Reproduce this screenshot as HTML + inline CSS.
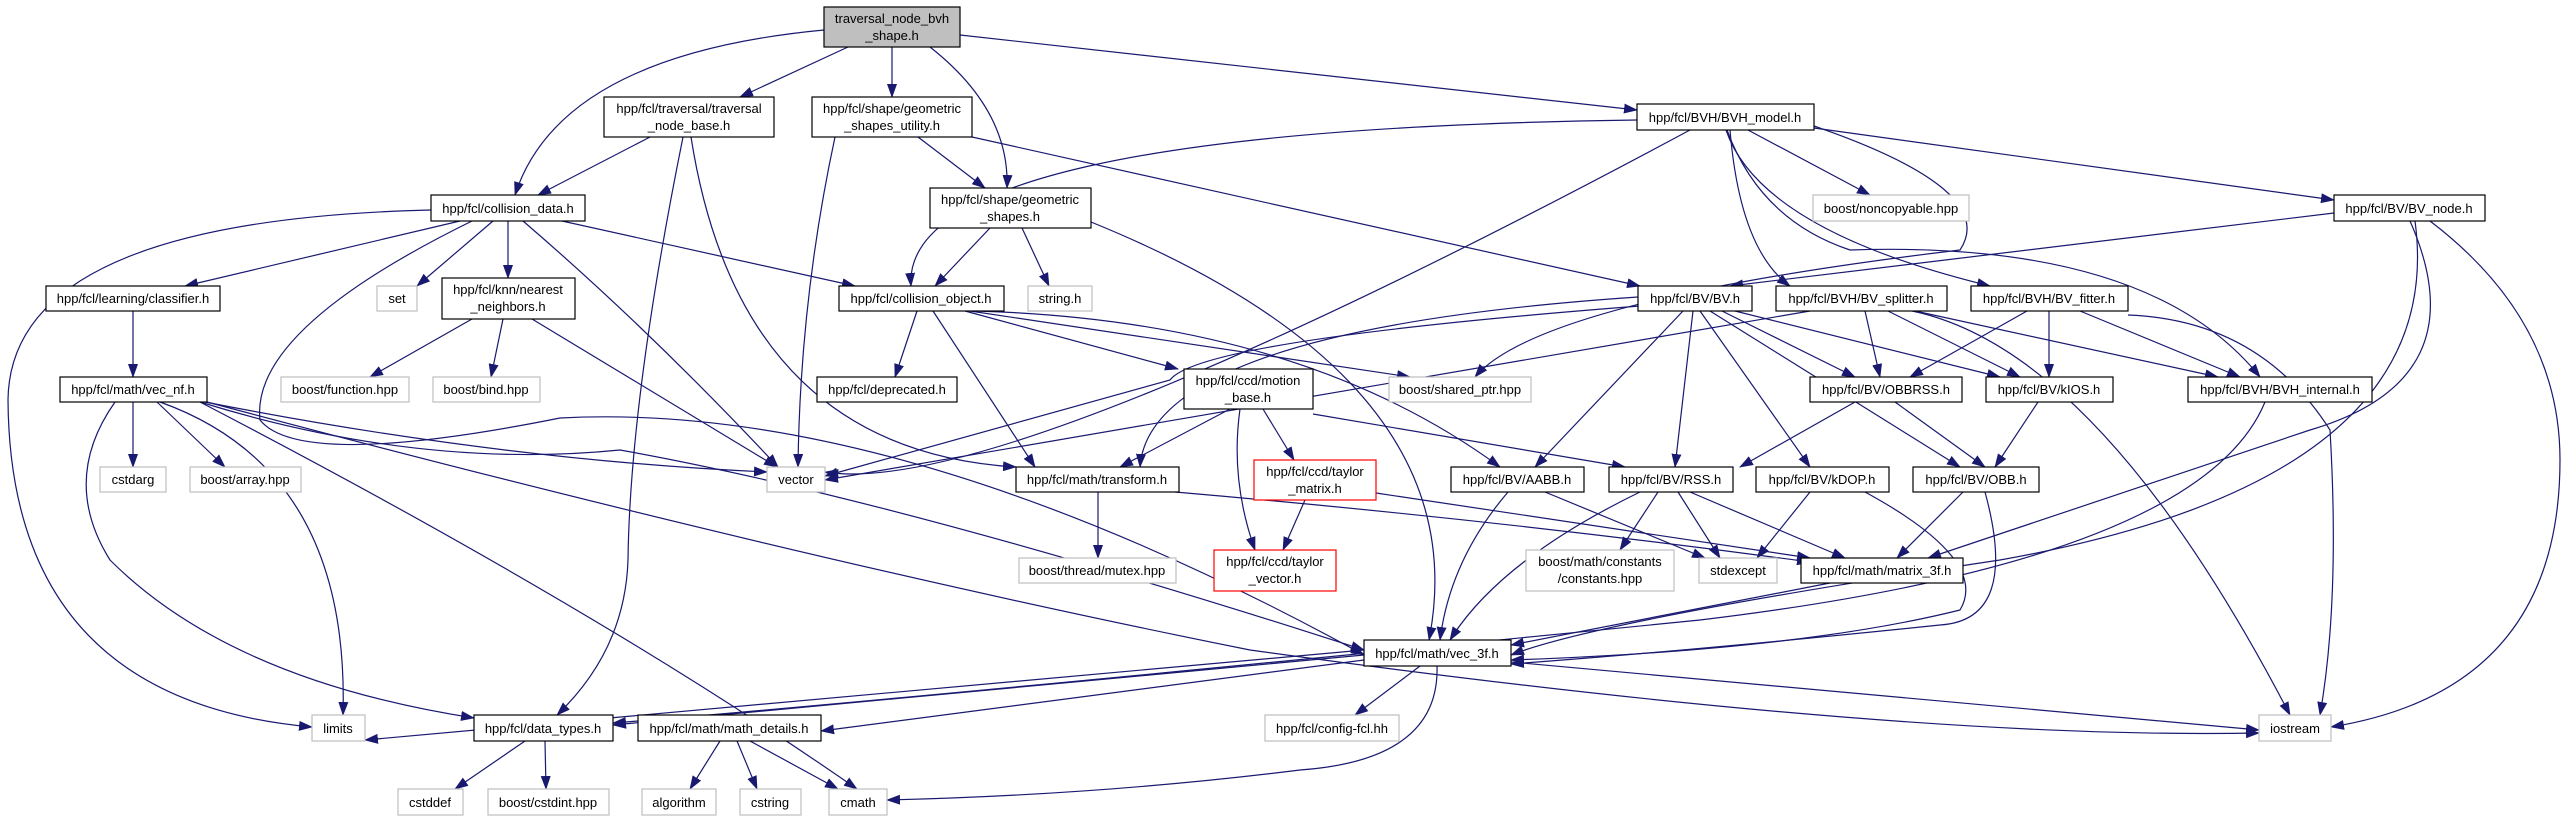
<!DOCTYPE html>
<html><head><meta charset="utf-8"><style>
html,body{margin:0;padding:0;background:#fff}
svg{display:block}
text{font-family:"Liberation Sans",sans-serif;font-size:13px;fill:#000}
.e{fill:none;stroke:#191970;stroke-width:1.2}
.n{fill:#fff;stroke:#000;stroke-width:1.2}
.g{fill:#fff;stroke:#bfbfbf;stroke-width:1.2}
.r{fill:#fff;stroke:#ff0000;stroke-width:1.2}
</style></head><body>
<svg width="2567" height="821" viewBox="0 0 2567 821" xmlns="http://www.w3.org/2000/svg">
<defs><marker id="a" markerWidth="14" markerHeight="10" refX="13" refY="5" orient="auto" markerUnits="userSpaceOnUse"><path d="M0,0 L14,5 L0,10 Z" fill="#191970"/></marker></defs>
<g class="e" marker-end="url(#a)">
<path d="M824,30 Q560,55 515,195"/>
<path d="M848,47 L740,97"/>
<path d="M892,47 L892,97"/>
<path d="M930,47 Q1010,110 1007,188"/>
<path d="M960,35 L1637,110"/>
<path d="M650,137 L538,195"/>
<path d="M683,137 Q630,400 628,560 Q625,650 557,715"/>
<path d="M691,137 Q740,450 1016,467"/>
<path d="M835,137 Q800,300 798,467"/>
<path d="M918,137 L985,188"/>
<path d="M972,137 L1640,286"/>
<path d="M990,228 L935,286"/>
<path d="M1022,228 L1049,286"/>
<path d="M1091,222 Q1480,380 1429,640"/>
<path d="M1637,120 Q900,130 911,286"/>
<path d="M1690,130 Q1000,500 825,472"/>
<path d="M1748,130 L1870,195"/>
<path d="M1814,128 L2334,200"/>
<path d="M1814,126 Q2000,190 1960,250 Q1540,300 1475,377"/>
<path d="M1730,130 Q1740,250 1790,286"/>
<path d="M1726,130 Q1760,230 1990,286"/>
<path d="M1727,130 Q1760,220 1850,250 Q2150,240 2260,377"/>
<path d="M2334,213 L1730,286"/>
<path d="M2410,221 Q2480,380 2310,430 L1928,558"/>
<path d="M2415,221 Q2450,480 2000,560 Q1600,620 1511,655"/>
<path d="M2430,221 Q2560,320 2560,460 Q2560,690 2331,727"/>
<path d="M431,210 Q10,220 8,400 Q10,700 312,727"/>
<path d="M460,221 L185,286"/>
<path d="M472,221 Q250,330 260,420 Q300,470 560,418 Q900,400 1364,655"/>
<path d="M493,221 L417,286"/>
<path d="M508,221 L508,278"/>
<path d="M523,221 Q650,330 778,467"/>
<path d="M562,221 L855,286"/>
<path d="M133,311 L133,377"/>
<path d="M472,319 L370,377"/>
<path d="M503,319 L491,377"/>
<path d="M532,319 L777,467"/>
<path d="M133,402 L133,467"/>
<path d="M157,402 L225,467"/>
<path d="M160,402 Q350,470 343,715"/>
<path d="M115,402 Q60,480 110,560 Q230,680 474,718"/>
<path d="M200,402 Q600,610 857,789"/>
<path d="M205,402 Q500,460 767,472"/>
<path d="M200,402 Q420,470 620,450 Q900,500 1364,650"/>
<path d="M207,402 Q800,560 1250,650 Q1900,740 2259,733"/>
<path d="M917,311 L895,377"/>
<path d="M933,311 L1035,467"/>
<path d="M965,311 L1178,369"/>
<path d="M970,311 L1410,377"/>
<path d="M975,311 Q1300,320 1500,467"/>
<path d="M1230,409 L1120,467"/>
<path d="M1263,409 L1294,460"/>
<path d="M1240,409 Q1230,480 1255,550"/>
<path d="M1313,414 L1625,467"/>
<path d="M1305,500 L1283,550"/>
<path d="M1376,493 L1810,558"/>
<path d="M1098,492 L1098,558"/>
<path d="M1175,492 Q1500,520 1810,562"/>
<path d="M1638,297 Q1150,330 1140,467"/>
<path d="M1640,306 Q1200,340 1170,380 L825,476"/>
<path d="M1683,311 L1535,467"/>
<path d="M1693,311 L1675,467"/>
<path d="M1700,311 L1810,467"/>
<path d="M1710,311 L1960,467"/>
<path d="M1722,311 L1855,377"/>
<path d="M1735,311 L2000,377"/>
<path d="M1810,311 L825,480"/>
<path d="M1865,311 L1880,377"/>
<path d="M1888,311 L2020,377"/>
<path d="M1915,311 L2218,377"/>
<path d="M1912,311 Q2100,350 2290,715"/>
<path d="M2027,311 L1910,377"/>
<path d="M2049,311 L2049,377"/>
<path d="M2080,311 L2240,377"/>
<path d="M2128,315 Q2260,320 2330,430 Q2340,600 2320,715"/>
<path d="M1855,402 L1740,467"/>
<path d="M1895,402 L1985,467"/>
<path d="M2038,402 L1995,467"/>
<path d="M2265,402 Q2200,560 1700,620 Q900,700 613,723"/>
<path d="M1658,492 L1620,550"/>
<path d="M1678,492 L1720,558"/>
<path d="M1690,492 L1845,558"/>
<path d="M1640,492 Q1500,560 1450,640"/>
<path d="M1508,492 Q1450,560 1440,640"/>
<path d="M1545,492 L1705,558"/>
<path d="M1810,492 L1757,558"/>
<path d="M1865,492 Q1990,560 1960,610 Q1800,650 1511,660"/>
<path d="M1985,492 Q2020,620 1940,625 Q1700,650 1511,664"/>
<path d="M1963,492 L1897,558"/>
<path d="M1830,583 L1511,645"/>
<path d="M1364,650 L365,740"/>
<path d="M1364,655 L613,725"/>
<path d="M1364,660 L821,731"/>
<path d="M1420,666 L1355,715"/>
<path d="M1437,666 Q1440,760 1300,770 Q1100,795 887,800"/>
<path d="M1511,662 L2259,730"/>
<path d="M720,741 L690,789"/>
<path d="M737,741 L757,789"/>
<path d="M750,741 L838,789"/>
<path d="M525,741 L455,789"/>
<path d="M545,741 L546,789"/>
</g>
<g text-anchor="middle">
<rect x="824" y="7" width="136" height="40" fill="#bfbfbf" stroke="#000" stroke-width="1.2"/><text x="892" y="23">traversal_node_bvh</text><text x="892" y="40">_shape.h</text>
<rect class="n" x="604" y="97" width="170" height="40"/><text x="689" y="113">hpp/fcl/traversal/traversal</text><text x="689" y="130">_node_base.h</text>
<rect class="n" x="812" y="97" width="160" height="40"/><text x="892" y="113">hpp/fcl/shape/geometric</text><text x="892" y="130">_shapes_utility.h</text>
<rect class="n" x="1637" y="104" width="177" height="26"/><text x="1725" y="122">hpp/fcl/BVH/BVH_model.h</text>
<rect class="n" x="930" y="188" width="161" height="40"/><text x="1010" y="204">hpp/fcl/shape/geometric</text><text x="1010" y="221">_shapes.h</text>
<rect class="n" x="431" y="195" width="154" height="26"/><text x="508" y="213">hpp/fcl/collision_data.h</text>
<rect class="g" x="1813" y="195" width="156" height="26"/><text x="1891" y="213">boost/noncopyable.hpp</text>
<rect class="n" x="2334" y="195" width="151" height="26"/><text x="2409" y="213">hpp/fcl/BV/BV_node.h</text>
<rect class="n" x="46" y="286" width="174" height="25"/><text x="133" y="303">hpp/fcl/learning/classifier.h</text>
<rect class="g" x="377" y="286" width="40" height="25"/><text x="397" y="303">set</text>
<rect class="n" x="442" y="278" width="133" height="41"/><text x="508" y="294">hpp/fcl/knn/nearest</text><text x="508" y="311">_neighbors.h</text>
<rect class="n" x="839" y="286" width="165" height="25"/><text x="921" y="303">hpp/fcl/collision_object.h</text>
<rect class="g" x="1028" y="286" width="64" height="25"/><text x="1060" y="303">string.h</text>
<rect class="n" x="1638" y="286" width="114" height="25"/><text x="1695" y="303">hpp/fcl/BV/BV.h</text>
<rect class="n" x="1776" y="286" width="171" height="25"/><text x="1861" y="303">hpp/fcl/BVH/BV_splitter.h</text>
<rect class="n" x="1971" y="286" width="157" height="25"/><text x="2049" y="303">hpp/fcl/BVH/BV_fitter.h</text>
<rect class="n" x="60" y="377" width="147" height="25"/><text x="133" y="394">hpp/fcl/math/vec_nf.h</text>
<rect class="g" x="281" y="377" width="128" height="25"/><text x="345" y="394">boost/function.hpp</text>
<rect class="g" x="433" y="377" width="107" height="25"/><text x="486" y="394">boost/bind.hpp</text>
<rect class="n" x="817" y="377" width="140" height="25"/><text x="887" y="394">hpp/fcl/deprecated.h</text>
<rect class="n" x="1184" y="369" width="129" height="40"/><text x="1248" y="385">hpp/fcl/ccd/motion</text><text x="1248" y="402">_base.h</text>
<rect class="g" x="1389" y="377" width="142" height="25"/><text x="1460" y="394">boost/shared_ptr.hpp</text>
<rect class="n" x="1810" y="377" width="152" height="25"/><text x="1886" y="394">hpp/fcl/BV/OBBRSS.h</text>
<rect class="n" x="1986" y="377" width="127" height="25"/><text x="2049" y="394">hpp/fcl/BV/kIOS.h</text>
<rect class="n" x="2188" y="377" width="184" height="25"/><text x="2280" y="394">hpp/fcl/BVH/BVH_internal.h</text>
<rect class="g" x="100" y="467" width="66" height="25"/><text x="133" y="484">cstdarg</text>
<rect class="g" x="190" y="467" width="111" height="25"/><text x="245" y="484">boost/array.hpp</text>
<rect class="g" x="767" y="467" width="58" height="25"/><text x="796" y="484">vector</text>
<rect class="n" x="1016" y="467" width="163" height="25"/><text x="1097" y="484">hpp/fcl/math/transform.h</text>
<rect class="r" x="1254" y="460" width="122" height="40"/><text x="1315" y="476">hpp/fcl/ccd/taylor</text><text x="1315" y="493">_matrix.h</text>
<rect class="n" x="1451" y="467" width="133" height="25"/><text x="1517" y="484">hpp/fcl/BV/AABB.h</text>
<rect class="n" x="1609" y="467" width="124" height="25"/><text x="1671" y="484">hpp/fcl/BV/RSS.h</text>
<rect class="n" x="1756" y="467" width="133" height="25"/><text x="1822" y="484">hpp/fcl/BV/kDOP.h</text>
<rect class="n" x="1913" y="467" width="126" height="25"/><text x="1976" y="484">hpp/fcl/BV/OBB.h</text>
<rect class="g" x="1019" y="558" width="157" height="25"/><text x="1097" y="575">boost/thread/mutex.hpp</text>
<rect class="r" x="1214" y="550" width="122" height="41"/><text x="1275" y="566">hpp/fcl/ccd/taylor</text><text x="1275" y="583">_vector.h</text>
<rect class="g" x="1526" y="550" width="148" height="41"/><text x="1600" y="566">boost/math/constants</text><text x="1600" y="583">/constants.hpp</text>
<rect class="g" x="1699" y="558" width="78" height="25"/><text x="1738" y="575">stdexcept</text>
<rect class="n" x="1801" y="558" width="162" height="25"/><text x="1882" y="575">hpp/fcl/math/matrix_3f.h</text>
<rect class="n" x="1364" y="640" width="147" height="26"/><text x="1437" y="658">hpp/fcl/math/vec_3f.h</text>
<rect class="g" x="312" y="715" width="53" height="26"/><text x="338" y="733">limits</text>
<rect class="n" x="474" y="715" width="139" height="26"/><text x="543" y="733">hpp/fcl/data_types.h</text>
<rect class="n" x="638" y="715" width="183" height="26"/><text x="729" y="733">hpp/fcl/math/math_details.h</text>
<rect class="g" x="1265" y="715" width="134" height="26"/><text x="1332" y="733">hpp/fcl/config-fcl.hh</text>
<rect class="g" x="2259" y="715" width="72" height="26"/><text x="2295" y="733">iostream</text>
<rect class="g" x="398" y="789" width="65" height="26"/><text x="430" y="807">cstddef</text>
<rect class="g" x="488" y="789" width="121" height="26"/><text x="548" y="807">boost/cstdint.hpp</text>
<rect class="g" x="642" y="789" width="74" height="26"/><text x="679" y="807">algorithm</text>
<rect class="g" x="740" y="789" width="61" height="26"/><text x="770" y="807">cstring</text>
<rect class="g" x="829" y="789" width="58" height="26"/><text x="858" y="807">cmath</text>
</g>
</svg>
</body></html>
